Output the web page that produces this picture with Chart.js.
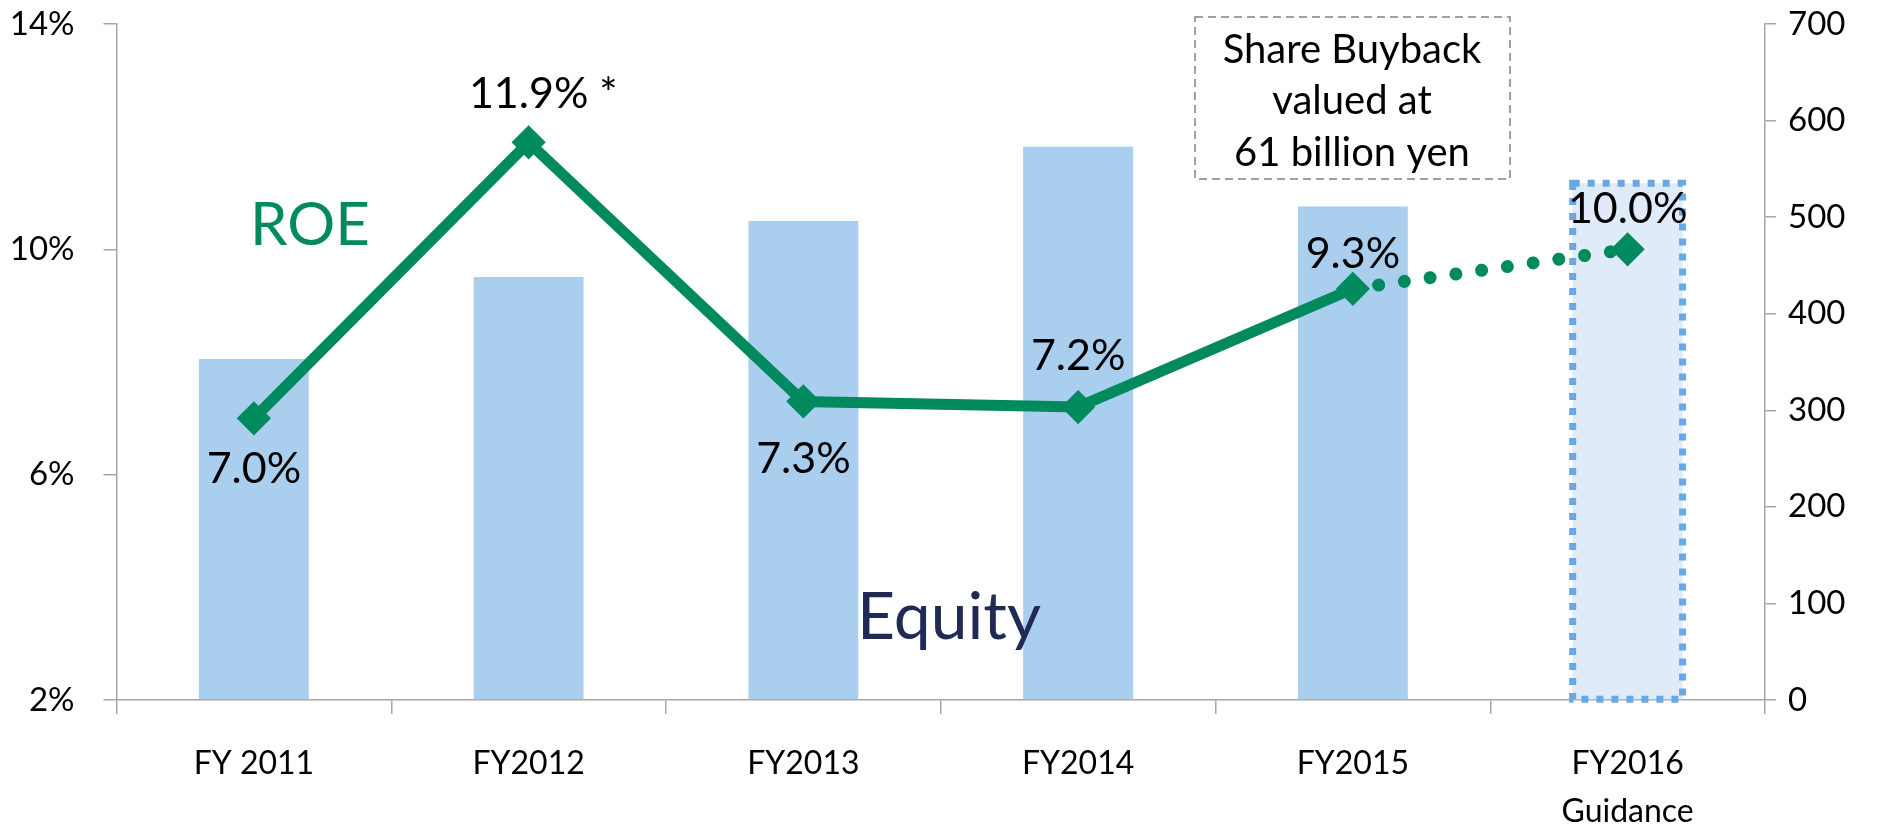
<!DOCTYPE html>
<html>
<head>
<meta charset="utf-8">
<script src="https://cdn.jsdelivr.net/npm/chart.js@4.4.1/dist/chart.umd.min.js"></script>
<style>
html,body{margin:0;padding:0;background:#fff;overflow:hidden}
#wrap{width:1884px;height:828px;position:relative}
</style>
</head>
<body>
<div id="wrap"><canvas id="c" width="1884" height="828"></canvas></div>
<script>
// ---- data ----
const categories = [['FY 2011'], ['FY2012'], ['FY2013'], ['FY2014'], ['FY2015'], ['FY2016', 'Guidance']];
const equityValues = [353, 438, 496, 573, 511, 535];      // right axis (billion yen)
const roeValues = [7.0, 11.9, 7.3, 7.2, 9.3, 10.0];       // left axis (%)
const roeNotes = ['', ' *', '', '', '', ''];
const roeTicks = [2, 6, 10, 14];
const equityTicks = [0, 100, 200, 300, 400, 500, 600, 700];
const guidanceIndex = 5;
const boxLines = ['Share Buyback', 'valued at', '61 billion yen'];

// ---- label placement (px offset from point, negative = above) ----
const roeLabelOffsets = [51, -48, 58, -51, -35, -40];

// ---- styles ----
const FONT = 'Lato, "Open Sans", sans-serif';
const green = '#008A5E';
const barBlue = '#A9CEEE';
const guideFill = '#DFEBF8';
const guideBorder = '#6AA8E4';
const axisGray = '#A6A6A6';

const overlay = {
  id: 'overlay',
  afterDatasetDraw(chart, args) {
    if (args.index !== 1) return; // bar dataset
    const el = args.meta.data[guidanceIndex];
    if (!el) return;
    const ctx = chart.ctx;
    const p = el.getProps(['x', 'y', 'base', 'width'], true);
    ctx.save();
    ctx.strokeStyle = guideBorder;
    ctx.lineWidth = 7;
    ctx.setLineDash([7, 8]);
    ctx.strokeRect(p.x - p.width / 2, p.y, p.width, p.base - p.y);
    ctx.restore();
  },
  afterDatasetsDraw(chart) {
    const ctx = chart.ctx;
    const meta = chart.getDatasetMeta(0);
    ctx.save();
    ctx.fillStyle = '#000';
    ctx.font = '43px ' + FONT;
    ctx.textBaseline = 'middle';
    meta.data.forEach((pt, i) => {
      const txt = roeValues[i].toFixed(1) + '%';
      const y = pt.y + roeLabelOffsets[i];
      ctx.textAlign = 'center';
      ctx.fillText(txt, pt.x, y);
      if (roeNotes[i]) {
        const w = ctx.measureText(txt).width;
        ctx.textAlign = 'left';
        ctx.fillText(roeNotes[i], pt.x + w / 2, y);
      }
    });
    ctx.restore();
  },
  afterDraw(chart) {
    const ctx = chart.ctx;
    ctx.save();
    // ROE label
    ctx.fillStyle = green;
    ctx.font = '60px ' + FONT;
    ctx.textAlign = 'center';
    ctx.textBaseline = 'middle';
    ctx.fillText('ROE', 310, 226);
    // Equity label
    ctx.fillStyle = '#1F2A55';
    ctx.font = '66px ' + FONT;
    ctx.fillText('Equity', 949, 618);
    // Share buyback box
    ctx.strokeStyle = '#A0A0A0';
    ctx.lineWidth = 2;
    ctx.setLineDash([8, 5]);
    ctx.strokeRect(1195, 17, 315, 162);
    ctx.setLineDash([]);
    ctx.fillStyle = '#000';
    ctx.font = '40px ' + FONT;
    boxLines.forEach((t, i) => ctx.fillText(t, 1352, 50 + i * 51.5));
    ctx.restore();
  }
};

const tickFont = { family: FONT, size: 33 };
const noPad = s => { s.paddingTop = 0; s.paddingBottom = 0; };

new Chart(document.getElementById('c'), {
  type: 'bar',
  data: {
    labels: categories,
    datasets: [
      {
        type: 'line',
        label: 'ROE',
        data: roeValues,
        yAxisID: 'y',
        order: 0,
        borderColor: green,
        backgroundColor: green,
        borderWidth: 11,
        borderCapStyle: 'butt',
        borderJoinStyle: 'miter',
        tension: 0,
        fill: false,
        pointStyle: 'rectRot',
        pointRadius: 15,
        pointBorderWidth: 3,
        pointBackgroundColor: green,
        pointBorderColor: green,
        segment: {
          borderDash: c => c.p1DataIndex === guidanceIndex ? [0.01, 26] : undefined,
          borderCapStyle: c => c.p1DataIndex === guidanceIndex ? 'round' : undefined,
          borderWidth: c => c.p1DataIndex === guidanceIndex ? 13 : undefined
        }
      },
      {
        type: 'bar',
        label: 'Equity',
        data: equityValues,
        yAxisID: 'y1',
        order: 1,
        backgroundColor: c => c.dataIndex === guidanceIndex ? guideFill : barBlue,
        borderWidth: 0,
        categoryPercentage: 1,
        barPercentage: 0.40
      }
    ]
  },
  options: {
    responsive: false,
    animation: false,
    devicePixelRatio: 1,
    layout: { padding: { top: 24, left: 0, right: 0, bottom: 0 } },
    plugins: { legend: { display: false }, tooltip: { enabled: false } },
    scales: {
      x: {
        offset: true,
        grid: { offset: true, drawOnChartArea: false, drawTicks: true, tickLength: 14, color: axisGray, lineWidth: 1.5 },
        border: { display: true, color: axisGray, width: 1.5 },
        ticks: { color: '#000', font: { family: FONT, size: 32, lineHeight: 1.5 }, padding: 26, maxRotation: 0, autoSkip: false },
        afterFit: s => { s.height = 128; s.paddingLeft = 0; s.paddingRight = 0; }
      },
      y: {
        position: 'left',
        min: roeTicks[0],
        max: roeTicks[roeTicks.length - 1],
        afterBuildTicks: s => { s.ticks = roeTicks.map(v => ({ value: v })); },
        grid: { drawOnChartArea: false, drawTicks: true, tickLength: 13, color: axisGray, lineWidth: 1.5 },
        border: { display: true, color: axisGray, width: 1.5 },
        ticks: { color: '#000', font: tickFont, padding: 29, callback: v => v + '%' },
        afterFit: s => { s.width = 116.5; noPad(s); }
      },
      y1: {
        position: 'right',
        min: equityTicks[0],
        max: equityTicks[equityTicks.length - 1],
        afterBuildTicks: s => { s.ticks = equityTicks.map(v => ({ value: v })); },
        grid: { drawOnChartArea: false, drawTicks: true, tickLength: 11, color: axisGray, lineWidth: 1.5 },
        border: { display: true, color: axisGray, width: 1.5 },
        ticks: { color: '#000', font: tickFont, padding: 12 },
        afterFit: s => { s.width = 119; noPad(s); }
      }
    }
  },
  plugins: [overlay]
});
</script>
</body>
</html>
